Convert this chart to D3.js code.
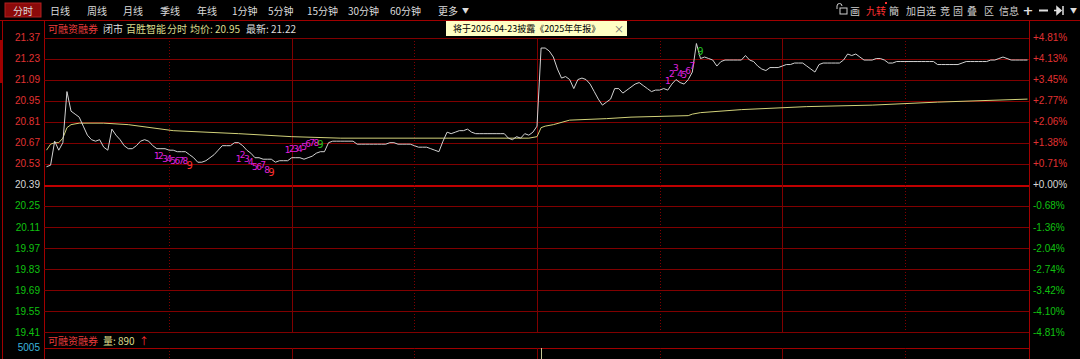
<!DOCTYPE html>
<meta charset="utf-8">
<head>
  <title>百胜智能 分时</title>
</head>
<style>
body { margin: 0; background: #000; }
svg { display: block; font-family: "Noto Sans CJK SC", "DejaVu Sans", sans-serif; }
.grid { stroke: #800000; stroke-width: 1px; shape-rendering: crispEdges; }
.vsolid { stroke: #800000; stroke-width: 1px; shape-rendering: crispEdges; }
.vdot { stroke: #800000; stroke-width: 1px; stroke-dasharray: 1,2; shape-rendering: crispEdges; }
.price { fill: none; stroke: #d2d2d2; stroke-width: 1px; }
.avg { fill: none; stroke: #d2d27a; stroke-width: 1px; }
</style>
<body>
<script src="https://d3js.org/d3.v7.min.js"></script>
<script>

// ---- data ----
var prevClose = 20.39;
var leftTicks = [21.37, 21.23, 21.09, 20.95, 20.81, 20.67, 20.53, 20.39,
                 20.25, 20.11, 19.97, 19.83, 19.69, 19.55, 19.41];
var rightTicks = ["+4.81%", "+4.13%", "+3.45%", "+2.77%", "+2.06%", "+1.38%", "+0.71%", "+0.00%",
                  "-0.68%", "-1.36%", "-2.04%", "-2.74%", "-3.42%", "-4.10%", "-4.81%"];

// one price per minute, 9:30 .. 15:00 (241 points)
var price = [
  20.51,20.52,20.68,20.62,20.67,21.01,20.88,20.86,20.84,20.78,
  20.72,20.69,20.68,20.69,20.64,20.62,20.76,20.72,20.69,20.65,
  20.63,20.63,20.65,20.68,20.69,20.68,20.65,20.63,20.63,20.63,
  20.62,20.62,20.61,20.61,20.61,20.59,20.57,20.54,20.54,20.55,
  20.57,20.59,20.62,20.65,20.65,20.65,20.67,20.67,20.65,20.62,
  20.60,20.57,20.57,20.56,20.56,20.56,20.54,20.55,20.55,20.55,
  20.57,20.57,20.57,20.56,20.57,20.58,20.60,20.61,20.61,20.67,
  20.68,20.68,20.68,20.68,20.68,20.68,20.66,20.66,20.66,20.66,
  20.66,20.66,20.66,20.66,20.67,20.67,20.66,20.66,20.66,20.66,
  20.65,20.64,20.64,20.64,20.63,20.62,20.61,20.68,20.74,20.73,
  20.74,20.75,20.75,20.76,20.74,20.73,20.73,20.73,20.73,20.73,
  20.73,20.73,20.73,20.70,20.69,20.71,20.70,20.73,20.72,20.74,
  20.78,21.30,21.30,21.28,21.24,21.16,21.10,21.11,21.09,21.03,
  21.09,21.10,21.09,21.06,21.01,20.96,20.92,20.94,20.96,21.03,
  21.03,21.00,21.02,21.04,21.06,21.07,21.05,21.03,21.01,21.02,
  21.02,21.03,21.02,21.06,21.09,21.07,21.06,21.09,21.14,21.33,
  21.23,21.24,21.23,21.22,21.18,21.21,21.22,21.22,21.22,21.22,
  21.22,21.25,21.22,21.21,21.18,21.16,21.15,21.17,21.17,21.17,
  21.18,21.19,21.19,21.20,21.20,21.20,21.18,21.16,21.14,21.19,
  21.20,21.20,21.20,21.20,21.20,21.22,21.26,21.25,21.26,21.24,
  21.22,21.22,21.22,21.23,21.23,21.22,21.20,21.20,21.21,21.21,
  21.21,21.21,21.21,21.21,21.21,21.21,21.21,21.21,21.19,21.19,
  21.19,21.19,21.19,21.19,21.20,21.21,21.21,21.21,21.21,21.21,
  21.21,21.22,21.22,21.23,21.24,21.23,21.22,21.22,21.22,21.22,
  21.22
];

// average price line (minute, value)
var avgMinutes = [0, 1, 2, 3, 4, 5, 6, 8, 14, 20, 31, 47, 60, 72, 118, 120,
                  121, 122, 124, 128, 137, 143, 157, 158, 160, 170, 186, 202, 218, 240];
var avgValues  = [20.62, 20.66, 20.67, 20.67, 20.70, 20.77, 20.79, 20.80, 20.80, 20.79, 20.75, 20.73, 20.71, 20.70, 20.70, 20.71,
                  20.77, 20.78, 20.79, 20.82, 20.83, 20.84, 20.85, 20.86, 20.87, 20.89, 20.91, 20.92, 20.94, 20.96];

// volume (only the visible bar and the last one)
var volMax = 5005;
var volMinutes = [121, 240];
var volValues = [5005, 890];

// sequential count markers
var td1Minutes = [27, 28, 29, 30, 31, 32, 33, 34, 35];
var td1Prices  = [20.58, 20.58, 20.56, 20.56, 20.55, 20.55, 20.55, 20.55, 20.52];
var td1Labels  = ["1", "2", "3", "4", "5", "6", "7", "8", "9"];
var td2Minutes = [47, 48, 49, 50, 51, 52, 53, 54, 55];
var td2Prices  = [20.56, 20.59, 20.56, 20.54, 20.51, 20.51, 20.52, 20.49, 20.47];
var td2Labels  = ["1", "2", "3", "4", "5", "6", "7", "8", "9"];
var td3Minutes = [59, 60, 61, 62, 63, 64, 65, 66, 67];
var td3Prices  = [20.62, 20.63, 20.63, 20.63, 20.64, 20.66, 20.67, 20.67, 20.66];
var td3Labels  = ["1", "2", "3", "4", "5", "6", "7", "8", "9"];
var td4Minutes = [152, 153, 154, 155, 156, 157, 158, 160];
var td4Prices  = [21.08, 21.13, 21.17, 21.13, 21.12, 21.15, 21.18, 21.28];
var td4Labels  = ["1", "2", "3", "4", "5", "6", "7", "9"];

var tabs = ["分时", "日线", "周线", "月线", "季线", "年线", "1分钟", "5分钟", "15分钟", "30分钟", "60分钟", "更多"];
var tools = ["画", "九转", "簡", "加自选", "竞", "固", "叠", "区", "信息"];

// ---- layout ----
var W = 1080, H = 359;
var plotLeft = 44, plotRight = 1029;
var plotTop = 37.5, plotBottom = 332;

var svg = d3.select("body").append("svg")
    .attr("width", W)
    .attr("height", H);

svg.append("rect").attr("width", W).attr("height", H).attr("fill", "#000");

var x = d3.scaleLinear().domain([0, 240]).range([46.5, 1027.5]);
var y = d3.scaleLinear().domain([19.41, 21.37]).range([plotBottom, plotTop]);
var yv = d3.scaleLinear().domain([0, volMax]).range([430, 348]);

// ---- frame ----
svg.append("line").attr("class", "grid").style("stroke", "#a00000")
    .attr("x1", 0).attr("x2", W).attr("y1", 20.5).attr("y2", 20.5);
svg.append("line").attr("class", "grid").style("stroke", "#a00000")
    .attr("x1", plotLeft + 0.5).attr("x2", plotLeft + 0.5).attr("y1", 20).attr("y2", H);
svg.append("line").attr("class", "grid").style("stroke", "#a00000")
    .attr("x1", plotRight + 0.5).attr("x2", plotRight + 0.5).attr("y1", 20).attr("y2", H);
svg.append("line").attr("class", "grid").style("stroke", "#a00000")
    .attr("x1", 2.5).attr("x2", 2.5).attr("y1", 20).attr("y2", H);
svg.append("rect").attr("x", 0).attr("y", 40).attr("width", 3).attr("height", 43).attr("fill", "#a00000");

// horizontal grid
svg.selectAll(".hgrid")
  .data(leftTicks)
  .enter().append("line")
    .attr("class", "grid")
    .attr("x1", plotLeft).attr("x2", plotRight)
    .attr("y1", function(d) { return Math.round(y(d)) + 0.5; })
    .attr("y2", function(d) { return Math.round(y(d)) + 0.5; })
    .style("stroke", function(d) { return d === prevClose ? "#c00000" : "#800000"; })
    .style("stroke-width", function(d) { return d === prevClose ? 2 : 1; });

// volume panel line
svg.append("line").attr("class", "grid").style("stroke", "#a00000")
    .attr("x1", plotLeft).attr("x2", plotRight).attr("y1", 348.5).attr("y2", 348.5);

// vertical grid every 30 min
var vmins = [30, 60, 90, 120, 150, 180, 210];
[[plotTop, plotBottom], [348, H]].forEach(function(seg) {
  svg.selectAll(null)
    .data(vmins)
    .enter().append("line")
      .attr("class", function(d) { return d % 60 === 0 ? "vsolid" : "vdot"; })
      .attr("x1", function(d) { return Math.round(x(d)) + 0.5; })
      .attr("x2", function(d) { return Math.round(x(d)) + 0.5; })
      .attr("y1", seg[0]).attr("y2", seg[1]);
});

// ---- axis labels ----
function tickColor(d) { return d > prevClose ? "#e03232" : (d < prevClose ? "#10c010" : "#d8d8d8"); }

var leftAxis = svg.append("g")
    .attr("transform", "translate(40,0)")
    .call(d3.axisLeft(y).tickValues(leftTicks).tickSize(0).tickPadding(0).tickFormat(d3.format(".2f")));
leftAxis.select(".domain").remove();
leftAxis.selectAll("text")
    .attr("font-family", "Liberation Sans, Arial, sans-serif")
    .attr("font-size", 10)
    .attr("fill", tickColor);

var rightAxis = svg.append("g")
    .attr("transform", "translate(1033,0)")
    .call(d3.axisRight(y).tickValues(leftTicks).tickSize(0).tickPadding(0)
      .tickFormat(function(d, i) { return rightTicks[i]; }));
rightAxis.select(".domain").remove();
rightAxis.selectAll("text")
    .attr("font-family", "Liberation Sans, Arial, sans-serif")
    .attr("font-size", 10)
    .attr("fill", tickColor);

// ---- lines ----
var avgLine = d3.line()
    .x(function(d, i) { return x(avgMinutes[i]); })
    .y(function(d) { return y(d); });
svg.append("path").datum(avgValues).attr("class", "avg").attr("d", avgLine);

var priceLine = d3.line()
    .x(function(d, i) { return x(i); })
    .y(function(d) { return y(d); });
svg.append("path").datum(price).attr("class", "price").attr("d", priceLine);

// volume bars
svg.selectAll(".vol")
  .data(volValues)
  .enter().append("line")
    .attr("x1", function(d, i) { return Math.round(x(volMinutes[i])) + 0.5; })
    .attr("x2", function(d, i) { return Math.round(x(volMinutes[i])) + 0.5; })
    .attr("y1", function(d) { return yv(d); })
    .attr("y2", yv(0))
    .style("stroke", "#c8c896");

// ---- sequential markers ----
function drawTd(mins, prices, labels, lastColor) {
  svg.selectAll(null)
    .data(labels)
    .enter().append("text")
      .attr("x", function(d, i) { return x(mins[i]); })
      .attr("y", function(d, i) { return y(prices[i]); })
      .attr("text-anchor", "middle")
      .attr("dominant-baseline", "central")
      .attr("font-family", "DejaVu Sans, sans-serif")
      .attr("font-size", function(d) { return d === "9" ? 10 : 9; })
      .attr("fill", function(d) { return d === "9" ? lastColor : "#e020e0"; })
      .text(function(d) { return d; });
}
drawTd(td1Minutes, td1Prices, td1Labels, "#ff3030");
drawTd(td2Minutes, td2Prices, td2Labels, "#ff3030");
drawTd(td3Minutes, td3Prices, td3Labels, "#20c020");
drawTd(td4Minutes, td4Prices, td4Labels, "#20c020");

// ---- toolbar ----
svg.append("rect")
    .attr("x", 5).attr("y", 3).attr("width", 36).attr("height", 14)
    .attr("fill", "#8c0a0a").attr("stroke", "#b02020");
var tabX = [13, 50, 87, 123, 160, 197, 232, 268, 307, 348, 390, 438];
svg.selectAll(".tab")
  .data(tabs)
  .enter().append("text")
    .attr("x", function(d, i) { return tabX[i]; })
    .attr("y", 10)
    .attr("dominant-baseline", "central")
    .attr("font-size", 10)
    .attr("fill", "#dcdcdc")
    .text(function(d) { return d; });
svg.append("text").attr("x", 462).attr("y", 10).attr("dominant-baseline", "central")
    .attr("font-size", 7).attr("fill", "#dcdcdc").text("▼");

// right tools
svg.append("rect").attr("x", 840).attr("y", 8).attr("width", 7).attr("height", 6)
    .attr("fill", "none").attr("stroke", "#cfcfcf");
svg.append("path").attr("d", "M837,9 v-3 a2.5,2.5 0 0 1 5,0").attr("fill", "none").attr("stroke", "#cfcfcf");
var toolX = [850, 866, 889, 906, 940, 953, 967, 984, 999];
svg.selectAll(".tool")
  .data(tools)
  .enter().append("text")
    .attr("x", function(d, i) { return toolX[i]; })
    .attr("y", 10)
    .attr("dominant-baseline", "central")
    .attr("font-size", 10)
    .attr("fill", function(d) { return d === "九转" ? "#ff3030" : "#cfcfcf"; })
    .text(function(d) { return d; });
svg.append("rect").attr("x", 885).attr("y", 2).attr("width", 2).attr("height", 2).attr("fill", "#ff3030");
svg.append("text").attr("x", 1028).attr("y", 10).attr("dominant-baseline", "central").attr("text-anchor", "middle")
    .attr("font-family", "DejaVu Sans").attr("font-size", 13).attr("font-weight", "bold").attr("fill", "#e0e0e0").text("+");
svg.append("line").attr("x1", 1039).attr("x2", 1048).attr("y1", 10.5).attr("y2", 10.5)
    .attr("stroke", "#e0e0e0").attr("stroke-width", 2);
svg.append("path").attr("d", "M1054,10.5 h4 M1057,7 l4,3.5 l-4,3.5 z M1063,6 v9")
    .attr("stroke", "#e0e0e0").attr("fill", "#e0e0e0").attr("stroke-width", 1.5);
svg.append("text").attr("x", 1070).attr("y", 10).attr("dominant-baseline", "central")
    .attr("font-size", 7).attr("fill", "#dcdcdc").text("▼");

// ---- header row ----
var header = [
  {t: "可融资融券", x: 48, c: "#e83c3c"},
  {t: "闭市", x: 103, c: "#dcdcdc"},
  {t: "百胜智能", x: 126, c: "#dcdc8c"},
  {t: "分时", x: 167, c: "#dcdc8c"},
  {t: "均价: 20.95", x: 190, c: "#dcdc8c"},
  {t: "最新: 21.22", x: 246, c: "#dcdcdc"}
];
svg.selectAll(".hdr")
  .data(header)
  .enter().append("text")
    .attr("x", function(d) { return d.x; })
    .attr("y", 28.5)
    .attr("dominant-baseline", "central")
    .attr("font-size", 10)
    .attr("fill", function(d) { return d.c; })
    .text(function(d) { return d.t; });

// notice box
svg.append("rect").attr("x", 446).attr("y", 21).attr("width", 181).attr("height", 15).attr("fill", "#ffffc4");
svg.append("text").attr("x", 453).attr("y", 28.5).attr("dominant-baseline", "central")
    .attr("font-size", 9).attr("fill", "#000").text("将于2026-04-23披露《2025年年报》");
svg.append("text").attr("x", 619).attr("y", 28.5).attr("dominant-baseline", "central").attr("text-anchor", "middle")
    .attr("font-size", 10).attr("fill", "#666").text("×");

// ---- volume header ----
svg.append("text").attr("x", 48).attr("y", 340).attr("dominant-baseline", "central")
    .attr("font-size", 10).attr("fill", "#e83c3c").text("可融资融券");
svg.append("text").attr("x", 103).attr("y", 340).attr("dominant-baseline", "central")
    .attr("font-size", 10).attr("fill", "#dcdc8c").text("量: 890");
svg.append("text").attr("x", 139).attr("y", 340).attr("dominant-baseline", "central")
    .attr("font-size", 10).attr("fill", "#ff3030").text("↑");
svg.append("text").attr("x", 40).attr("y", 347).attr("dominant-baseline", "central").attr("text-anchor", "end")
    .attr("font-family", "Liberation Sans, Arial, sans-serif").attr("font-size", 10).attr("fill", "#3cb4dc")
    .text(volMax);

</script>
</body>
